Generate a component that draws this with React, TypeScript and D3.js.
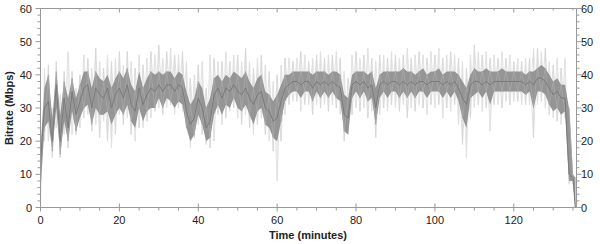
import React from "react";
import * as d3 from "d3";

// minutes (one sample per minute, plus the final drop)
const minutes: number[] = d3.range(0, 136).concat([135.6]);

// dark core bitrate (Mbps)
const core: number[] = [
  14, 30, 32, 20, 37, 20, 33, 24, 35, 28,
  32, 36, 37, 30, 36, 34, 33, 36, 30, 34,
  36, 33, 37, 31, 29, 36, 31, 34, 36, 35,
  37, 35, 37, 37, 35, 37, 36, 29, 25, 27,
  33, 30, 24, 26, 34, 36, 33, 36, 35, 37,
  35, 34, 36, 33, 31, 34, 35, 30, 29, 26,
  27, 32, 36, 37, 38, 38, 37, 38, 38, 36,
  38, 37, 38, 37, 38, 37, 36, 28, 27, 37,
  38, 37, 38, 36, 37, 30, 37, 38, 37, 38,
  38, 37, 38, 37, 38, 37, 38, 38, 37, 38,
  38, 38, 37, 38, 37, 38, 36, 33, 31, 37,
  38, 38, 37, 38, 37, 38, 38, 38, 38, 38,
  38, 38, 38, 37, 38, 37, 39, 39, 38, 36,
  34, 35, 33, 33, 10, 9, 0,
];

// dense (dark) band, top edge
const innerHi: number[] = [
  18, 36, 40, 27, 41, 28, 38, 33, 39, 33,
  37, 41, 41, 36, 41, 39, 38, 40, 36, 39,
  41, 39, 42, 37, 35, 41, 36, 39, 41, 40,
  41, 40, 41, 41, 39, 41, 40, 35, 31, 33,
  38, 36, 30, 33, 39, 40, 38, 40, 39, 41,
  40, 39, 41, 38, 36, 39, 40, 35, 34, 32,
  34, 37, 40, 40, 41, 41, 41, 41, 41, 40,
  41, 41, 41, 40, 41, 41, 40, 34, 33, 40,
  41, 41, 41, 40, 41, 36, 40, 41, 41, 41,
  41, 41, 42, 41, 41, 40, 41, 42, 40, 41,
  41, 42, 40, 41, 41, 41, 40, 38, 36, 40,
  42, 41, 41, 42, 41, 41, 41, 42, 41, 41,
  41, 41, 41, 40, 41, 41, 42, 43, 42, 40,
  38, 39, 37, 37, 30, 10, 9,
];

// dense (dark) band, bottom edge
const innerLo: number[] = [
  5, 24, 26, 17, 30, 16, 26, 20, 29, 23,
  27, 30, 31, 25, 30, 28, 28, 29, 25, 28,
  30, 28, 31, 26, 24, 30, 26, 29, 30, 30,
  33, 30, 33, 32, 30, 32, 31, 24, 20, 22,
  28, 25, 20, 21, 28, 31, 28, 31, 30, 33,
  30, 29, 31, 28, 25, 29, 30, 25, 24, 21,
  20, 26, 32, 34, 35, 35, 33, 35, 35, 32,
  35, 33, 35, 33, 35, 33, 32, 23, 22, 33,
  35, 33, 35, 32, 33, 25, 33, 35, 33, 35,
  35, 33, 35, 33, 35, 33, 35, 35, 33, 35,
  35, 35, 33, 35, 33, 35, 32, 27, 24, 33,
  34, 35, 33, 35, 31, 35, 35, 35, 35, 35,
  35, 35, 35, 34, 35, 30, 35, 35, 34, 31,
  29, 30, 28, 29, 8, 8, 0,
];

// upper spikes
const upper: number[] = [
  22, 42, 43, 30, 44, 34, 41, 47, 41, 36,
  40, 46, 45, 42, 48, 44, 42, 46, 44, 45,
  47, 43, 47, 44, 42, 46, 43, 45, 47, 46,
  49, 45, 47, 48, 46, 46, 47, 44, 39, 40,
  43, 44, 36, 46, 45, 44, 44, 47, 44, 46,
  46, 44, 48, 44, 42, 45, 46, 43, 41, 38,
  40, 43, 45, 45, 44, 45, 47, 46, 44, 45,
  46, 47, 45, 46, 46, 47, 45, 41, 39, 46,
  47, 45, 46, 48, 45, 44, 46, 46, 45, 47,
  46, 45, 46, 48, 45, 46, 47, 46, 45, 47,
  46, 48, 45, 46, 47, 46, 45, 44, 42, 46,
  49, 47, 46, 47, 45, 46, 45, 47, 45, 46,
  44, 45, 44, 45, 45, 48, 48, 47, 48, 44,
  43, 45, 42, 45, 30, 10, 9,
];

// lower spikes
const lower: number[] = [
  0, 20, 20, 15, 24, 15, 22, 18, 22, 22,
  24, 27, 28, 23, 25, 21, 26, 20, 18, 22,
  28, 25, 27, 22, 20, 24, 24, 26, 27, 29,
  30, 28, 30, 31, 28, 30, 29, 24, 18, 21,
  25, 22, 19, 18, 20, 28, 25, 27, 29, 30,
  27, 25, 28, 24, 22, 25, 27, 22, 20, 17,
  8, 20, 28, 31, 32, 32, 29, 31, 31, 28,
  31, 30, 31, 29, 31, 30, 28, 20, 22, 28,
  30, 29, 30, 27, 29, 21, 28, 30, 29, 31,
  30, 29, 31, 27, 30, 29, 31, 30, 28, 31,
  30, 31, 27, 30, 29, 31, 25, 19, 15, 27,
  30, 31, 29, 30, 23, 31, 31, 30, 32, 31,
  32, 32, 31, 31, 31, 21, 31, 32, 30, 28,
  27, 26, 25, 27, 7, 7, 0,
];

const xTicks = [0, 20, 40, 60, 80, 100, 120];
const yTicks = [0, 10, 20, 30, 40, 50, 60];

const W = 600;
const H = 244;
const left = 40.5;
const right = 576.5;
const top = 8.5;
const bottom = 207.5;

export default function App() {
  const x = d3.scaleLinear().domain([0, 135.9]).range([left, right]);
  const y = d3.scaleLinear().domain([0, 60]).range([bottom, top]);

  const idx = d3.range(minutes.length);
  const inner = d3
    .area<number>()
    .x((i) => x(minutes[i]))
    .y0((i) => y(innerLo[i]))
    .y1((i) => y(innerHi[i]));
  const line = d3
    .line<number>()
    .x((i) => x(minutes[i]))
    .y((i) => y(core[i]));
  // zigzag between spike tops and bottoms
  const zig = d3
    .line<number>()
    .x((i) => x(minutes[i]))
    .y((i) => y(i % 2 === 0 ? upper[i] : lower[i]));
  const zag = d3
    .line<number>()
    .x((i) => x(minutes[i]))
    .y((i) => y(i % 2 === 0 ? lower[i] : upper[i]));
  const hiEdge = d3
    .line<number>()
    .x((i) => x(minutes[i]))
    .y((i) => y(i % 2 === 0 ? innerHi[i] : innerLo[i]));

  const minorX = d3.range(0, 136, 5).filter((v) => v % 20 !== 0);
  const minorY = d3.range(0, 61, 2).filter((v) => v % 10 !== 0);
  const axisColor = "#999";
  const font = "Arial, 'Liberation Sans', sans-serif";

  return (
    <svg
      width={W}
      height={H}
      style={{ position: "absolute", left: 0, top: 0 }}
      fontFamily={font}
    >
      <rect x={0} y={0} width={W} height={H} fill="#fff" />
      {/* sparse outer fuzz */}
      {idx.map((i) => (
        <line
          key={"v" + i}
          x1={x(minutes[i])}
          x2={x(minutes[i])}
          y1={y(lower[i])}
          y2={y(upper[i])}
          stroke="#dedede"
          strokeWidth={1}
        />
      ))}
      <path d={zig(idx) || ""} fill="none" stroke="#d6d6d6" strokeWidth={0.8} />
      <path d={zag(idx) || ""} fill="none" stroke="#e0e0e0" strokeWidth={0.8} />
      {/* dense band */}
      <path d={inner(idx) || ""} fill="#959595" />
      <path d={hiEdge(idx) || ""} fill="none" stroke="#a8a8a8" strokeWidth={0.8} />
      <path d={line(idx) || ""} fill="none" stroke="#7a7a7a" strokeWidth={1} />

      {/* frame */}
      <line x1={left} x2={left} y1={top} y2={bottom} stroke={axisColor} />
      <line x1={right} x2={right} y1={top} y2={bottom} stroke={axisColor} />
      <line x1={left} x2={right} y1={bottom} y2={bottom} stroke={axisColor} />
      <line x1={left} x2={right} y1={top} y2={top} stroke={axisColor} />

      {/* x ticks */}
      {xTicks.map((t) => (
        <g key={"xt" + t}>
          <line x1={x(t)} x2={x(t)} y1={bottom - 4} y2={bottom + 4} stroke={axisColor} />
          <line x1={x(t)} x2={x(t)} y1={top} y2={top + 4} stroke={axisColor} />
          <text x={x(t)} y={224} fontSize={11} textAnchor="middle" fill="#222">
            {t}
          </text>
        </g>
      ))}
      {minorX.map((t) => (
        <g key={"xm" + t}>
          <line x1={x(t)} x2={x(t)} y1={bottom} y2={bottom + 3} stroke={axisColor} />
          <line x1={x(t)} x2={x(t)} y1={top} y2={top + 2} stroke={axisColor} />
        </g>
      ))}

      {/* y ticks */}
      {yTicks.map((t) => (
        <g key={"yt" + t}>
          <line x1={left - 5} x2={left} y1={y(t)} y2={y(t)} stroke={axisColor} />
          <line x1={right} x2={right + 5} y1={y(t)} y2={y(t)} stroke={axisColor} />
          <text x={32} y={y(t) + 4} fontSize={11} textAnchor="end" fill="#222">
            {t}
          </text>
          <text x={581} y={y(t) + 4} fontSize={11} textAnchor="start" fill="#222">
            {t}
          </text>
        </g>
      ))}
      {minorY.map((t) => (
        <g key={"ym" + t}>
          <line x1={left - 3} x2={left} y1={y(t)} y2={y(t)} stroke={axisColor} />
          <line x1={right} x2={right + 3} y1={y(t)} y2={y(t)} stroke={axisColor} />
        </g>
      ))}

      {/* titles */}
      <text
        x={308}
        y={239}
        fontSize={11}
        fontWeight="bold"
        textAnchor="middle"
        fill="#222"
      >
        Time (minutes)
      </text>
      <text
        transform={`translate(13, ${(top + bottom) / 2}) rotate(-90)`}
        fontSize={11}
        fontWeight="bold"
        textAnchor="middle"
        fill="#222"
      >
        Bitrate (Mbps)
      </text>
    </svg>
  );
}
